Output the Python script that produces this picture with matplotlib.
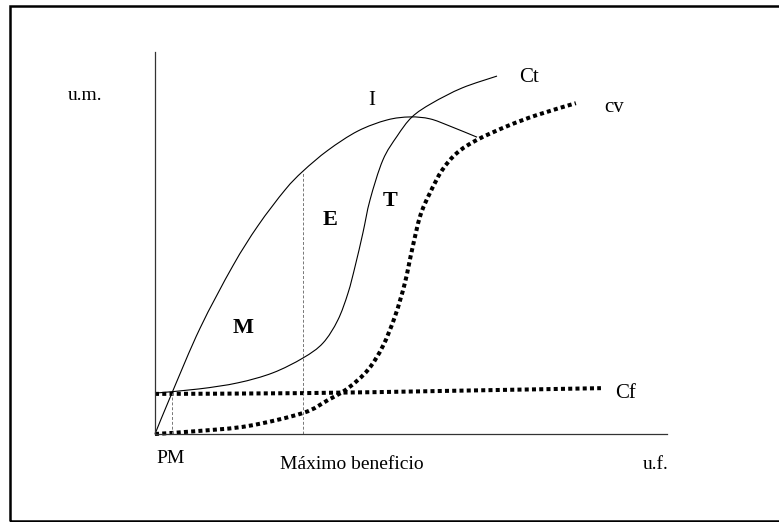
import matplotlib
matplotlib.use("Agg")
import matplotlib.pyplot as plt
from matplotlib.patches import Rectangle, PathPatch
from matplotlib.path import Path

plt.rcParams['font.family'] = ['Liberation Serif', 'DejaVu Serif']

# ---- data (u.f. on x, u.m. on y; arbitrary units 0-100) ----
ingreso_x = [0, 3.3, 8.8, 15.2, 20.1, 25.4, 28.9, 33.8, 39.6, 45.3, 49.8, 53.7, 57.6, 62.9]
ingreso_y = [0, 10.7, 27.7, 44.0, 54.5, 63.9, 68.8, 74.3, 79.3, 82.2, 83.0, 82.5, 80.6, 77.7]

ct_x = [0, 8.6, 16.2, 23.0, 28.9, 32.8, 35.7, 37.7, 39.1, 40.6, 42.0, 44.5, 47.3, 50.2, 54.1, 60.0, 66.8]
ct_y = [10.7, 11.8, 13.4, 16.0, 19.9, 23.8, 29.8, 36.9, 44.0, 52.6, 61.3, 71.7, 78.0, 83.0, 86.6, 90.6, 93.7]

cf_x = [0, 28.9, 57.6, 87.1]
cf_y = [10.5, 10.7, 11.3, 12.0]

cv_x = [0, 8.6, 18.2, 28.9, 33.8, 37.7, 41.6, 44.5, 46.9, 48.8, 50.2, 51.8, 53.7, 56.1, 59.0, 62.9, 68.8, 74.6, 82.2]
cv_y = [0, 0.8, 2.1, 5.5, 8.9, 12.0, 16.8, 23.0, 30.9, 39.5, 48.2, 57.1, 63.1, 69.1, 73.6, 77.0, 80.6, 83.5, 86.6]

pm_x = 3.3
pm_y = 10.7
maxb_x = 28.9
maxb_y = 68.8

W, H = 779, 522
fig = plt.figure(figsize=(W / 100, H / 100), dpi=100)
fig.patch.set_facecolor('white')

# outer frame
fig.patches.append(Rectangle((9.5 / W, 1.5 / H), 1.2, 1 - 7.5 / H, transform=fig.transFigure,
                             fill=False, edgecolor='black', linewidth=1.8))

ax = fig.add_axes([155 / W, (H - 434) / H, (667 - 155) / W, (434 - 52) / H])
ax.set_xlim(0, 100)
ax.set_ylim(0, 100)
ax.patch.set_alpha(0)
for s in ['top', 'right']:
    ax.spines[s].set_visible(False)
for s in ['left', 'bottom']:
    ax.spines[s].set_color('#333333')
    ax.spines[s].set_linewidth(0.9)
ax.set_xticks([])
ax.set_yticks([])


def smooth_path(xs, ys):
    """Catmull-Rom through the read points, drawn as cubic Bezier segments."""
    pts = list(zip(xs, ys))
    verts = [pts[0]]
    codes = [Path.MOVETO]
    n = len(pts)
    for i in range(n - 1):
        p0 = pts[i - 1] if i > 0 else pts[i]
        p1 = pts[i]
        p2 = pts[i + 1]
        p3 = pts[i + 2] if i + 2 < n else pts[i + 1]
        c1 = (p1[0] + (p2[0] - p0[0]) / 6, p1[1] + (p2[1] - p0[1]) / 6)
        c2 = (p2[0] - (p3[0] - p1[0]) / 6, p2[1] - (p3[1] - p1[1]) / 6)
        verts += [c1, c2, p2]
        codes += [Path.CURVE4] * 3
    return Path(verts, codes)


def curve(xs, ys, **kw):
    patch = PathPatch(smooth_path(xs, ys), fill=False, clip_on=False, **kw)
    ax.add_patch(patch)


dot = (0, (1.0, 0.8))
curve(cf_x, cf_y, edgecolor='black', lw=2.9, ls=dot, capstyle='butt')
curve(cv_x, cv_y, edgecolor='black', lw=2.9, ls=dot, capstyle='butt')
curve(ingreso_x, ingreso_y, edgecolor='black', lw=0.8)
curve(ct_x, ct_y, edgecolor='black', lw=0.8)

ax.plot([pm_x, pm_x], [0, pm_y], color='#777777', lw=0.7, ls=(0, (3, 2)))
ax.plot([maxb_x, maxb_x], [0, maxb_y], color='#777777', lw=0.7, ls=(0, (3, 2)))

kw = dict(clip_on=False)
ax.text(-13.7, 88.7, 'u.m.', ha='center', va='center', fontsize=14, **kw)
ax.text(3.1, -6.5, 'PM', ha='center', va='center', fontsize=14, **kw)
ax.text(38.5, -7.9, 'Máximo beneficio', ha='center', va='center', fontsize=14, **kw)
ax.text(97.7, -7.9, 'u.f.', ha='center', va='center', fontsize=14, **kw)
ax.text(71.1, 93.2, 'Ct', ha='left', va='center', fontsize=15, **kw)
ax.text(87.7, 85.6, 'cv', ha='left', va='center', fontsize=15, **kw)
ax.text(42.4, 87.4, 'I', ha='center', va='center', fontsize=15, **kw)
ax.text(89.8, 10.7, 'Cf', ha='left', va='center', fontsize=15, **kw)
ax.text(34.2, 56.0, 'E', ha='center', va='center', fontweight='bold', fontsize=16, **kw)
ax.text(45.9, 61.0, 'T', ha='center', va='center', fontweight='bold', fontsize=16, **kw)
ax.text(17.2, 27.7, 'M', ha='center', va='center', fontweight='bold', fontsize=16, **kw)

fig.savefig('out.png', dpi=100, facecolor='white')
